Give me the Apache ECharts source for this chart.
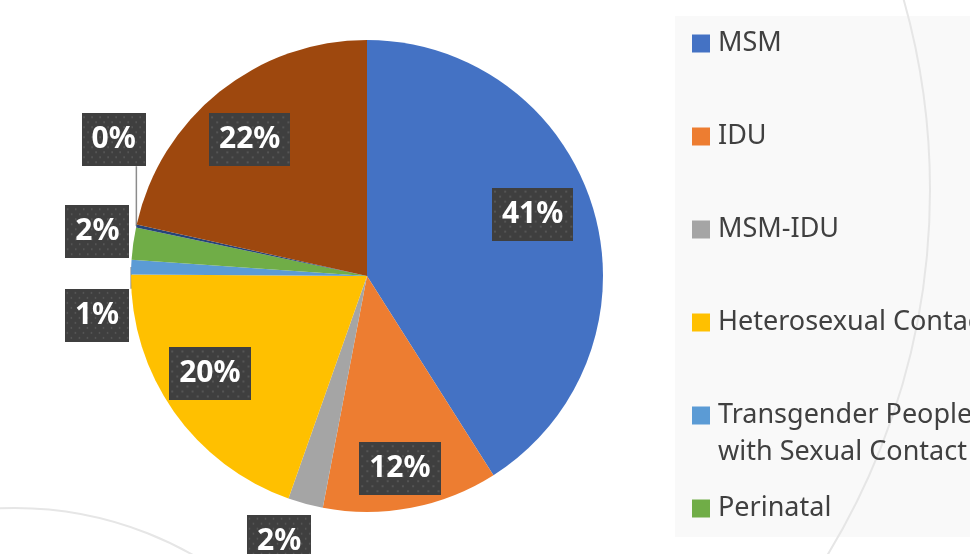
<!DOCTYPE html>
<html>
<head>
<meta charset="utf-8">
<title>Pie</title>
<script src="https://cdn.jsdelivr.net/npm/echarts@6/dist/echarts.min.js"></script>
<style>
	html,body{margin:0;padding:0;background:#fff;}
	#main{width:970px;height:554px;}
</style>
</head>
<body>
<div id="main"></div>
<script>
	// data (percent of cases)
	var categories = ['MSM', 'IDU', 'MSM-IDU', 'Heterosexual Contact', 'Transgender People with Sexual Contact', 'Perinatal', 'Other', 'Unknown'];
	var values = [41.0, 12.0, 2.4, 19.7, 1.0, 2.2, 0.2, 21.5];
	var legendNames = ['MSM', 'IDU', 'MSM-IDU', 'Heterosexual Contact', 'Transgender People with Sexual Contact', 'Perinatal'];

	var colors = ['#4472C4', '#ED7D31', '#A5A5A5', '#FFC000', '#5B9BD5', '#70AD47', '#264478', '#9E480E'];
	// nudges of the data labels from where echarts puts them
	var labelShift = [[-13, -10], [-2, 10], [16, 18], [-5, -9], [23, 49], [21, -9], [34, -82], [-1, 9]];
	var noLine = ['MSM-IDU', 'Perinatal'];
	var legendTop = [25, 118, 211, 304, 360, 490];

	// dark dotted box behind the labels
	function dotPattern(w, h){
		var c = document.createElement('canvas');
		c.width = w; c.height = h;
		var ctx = c.getContext('2d');
		ctx.fillStyle = '#3f3f3f';
		ctx.fillRect(0, 0, w, h);
		ctx.fillStyle = '#555555';
		for (var y = 3, row = 0; y < h; y += 5, row++) {
			for (var x = (row % 2) ? 7 : 2; x < w; x += 10) {
				ctx.fillRect(x, y, 2, 2);
			}
		}
		return c;
	}
	var pattern = dotPattern(80, 53);

	var pieData = [], ringData = [];
	for (var i = 0; i < categories.length; i++) {
		pieData.push({name: categories[i], value: values[i], itemStyle: {color: colors[i]}});
		var small = values[i] < 5;
		ringData.push({
			name: categories[i],
			value: values[i],
			label: {position: small ? 'outside' : 'inside'},
			labelLine: {show: small && noLine.indexOf(categories[i]) < 0}
		});
	}

	var legends = legendNames.map(function(n, i){
		return {
			data: [n],
			orient: 'vertical',
			left: 692,
			top: legendTop[i],
			padding: 0,
			icon: 'rect',
			itemWidth: 18,
			itemHeight: 18,
			selectedMode: false,
			formatter: function(name){
				if (name == 'Transgender People with Sexual Contact') return '\nTransgender People\nwith Sexual Contact';
				return name;
			},
			textStyle: {fontFamily: 'Noto Sans', fontSize: 27, color: '#404040', lineHeight: 37, padding: [0, 0, 0, 3]}
		};
	});

	var option = {
		animation: false,
		color: colors,
		legend: legends,
		graphic: [
			{type: 'rect', left: 675, top: 16, z: 0, shape: {width: 300, height: 521}, style: {fill: '#f9f9f9'}},
			{type: 'circle', z: 1, shape: {cx: 230, cy: 190, r: 700}, style: {fill: 'none', stroke: '#e6e6e6', lineWidth: 2}},
			{type: 'circle', z: 1, shape: {cx: 15, cy: 868, r: 360}, style: {fill: 'none', stroke: '#e6e6e6', lineWidth: 2}}
		],
		series: [
			{
				type: 'pie',
				center: [367, 276],
				radius: 236,
				silent: true,
				label: {show: false},
				labelLine: {show: false},
				data: pieData
			},
			{
				// transparent ring only used to place the labels
				type: 'pie',
				center: [367, 276],
				radius: [130, 236],
				silent: true,
				avoidLabelOverlap: false,
				percentPrecision: 0,
				itemStyle: {color: 'rgba(0,0,0,0)'},
				label: {
					show: true,
					formatter: '{d}%',
					color: '#fff',
					fontFamily: 'Noto Sans',
					fontWeight: 'bold',
					fontSize: 30,
					lineHeight: 31,
					padding: [11, 10, 11, 10],
					backgroundColor: {image: pattern},
					shadowColor: 'rgba(0,0,0,0.45)',
					shadowBlur: 5,
					shadowOffsetX: 3,
					shadowOffsetY: 3
				},
				labelLine: {length: 20, length2: 0, lineStyle: {color: '#8c8c8c', width: 1.5}},
				labelLayout: function(p){
					var s = labelShift[p.dataIndex];
					var out = {dx: s[0], dy: s[1]};
					// leader line: straight up/down from the slice edge to the moved box
					if (p.labelLinePoints && p.labelRect) {
						var a = p.labelLinePoints[0];
						var top = p.labelRect.y + s[1];
						var bottom = top + p.labelRect.height;
						out.labelLinePoints = [[a[0], a[1]], [a[0], a[1] > bottom ? bottom : top]];
					}
					return out;
				},
				data: ringData
			}
		]
	};

	var chart = echarts.init(document.getElementById('main'));
	chart.setOption(option);
</script>
</body>
</html>
